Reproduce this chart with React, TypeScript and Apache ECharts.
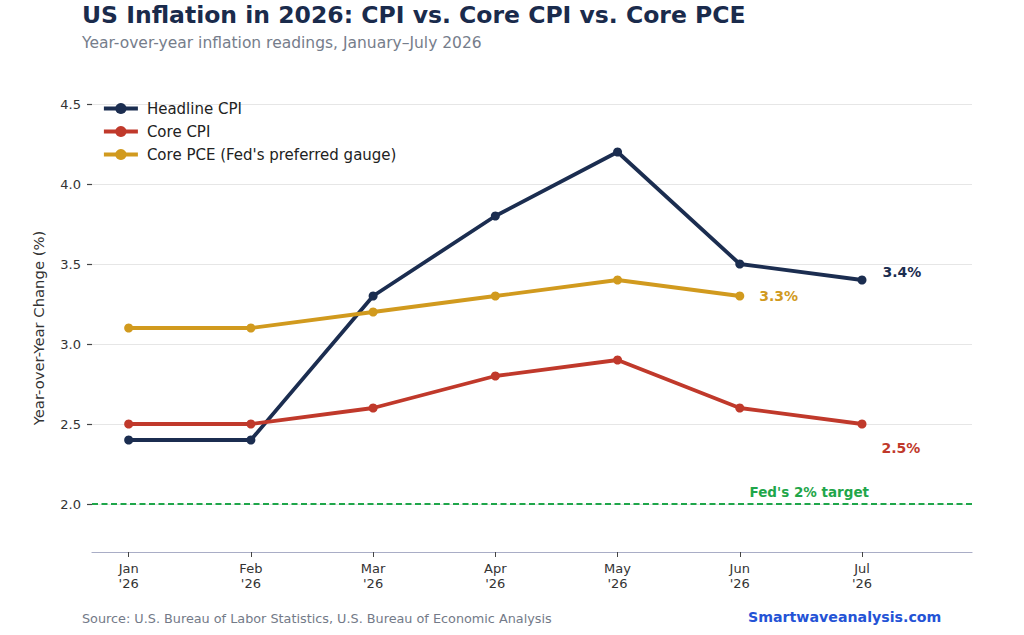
import React, { useEffect, useRef } from "react";
import * as echarts from "echarts";

const months = ["Jan", "Feb", "Mar", "Apr", "May", "Jun", "Jul"];
const yearTag = "'26";
const headlineCPI = [2.4, 2.4, 3.3, 3.8, 4.2, 3.5, 3.4];
const coreCPI = [2.5, 2.5, 2.6, 2.8, 2.9, 2.6, 2.5];
const corePCE = [3.1, 3.1, 3.2, 3.3, 3.4, 3.3];
const yTicks = [2.0, 2.5, 3.0, 3.5, 4.0, 4.5];
const fedTarget = 2.0;

const FONT = "DejaVu Sans";
const NAVY = "#1b2d50";
const RED = "#c0392b";
const GOLD = "#d19a1e";
const GREEN = "#1fa64a";

function toPoints(vals: number[], endLabel: any, color: string) {
  return vals.map((v, i) => {
    const item: any = { value: [i, v] };
    if (i === vals.length - 1) {
      item.label = {
        show: true,
        position: "right",
        distance: endLabel.distance,
        offset: endLabel.offset,
        color,
        fontFamily: FONT,
        fontWeight: "bold",
        fontSize: 14,
        formatter: (p: any) => p.value[1].toFixed(1) + "%",
      };
    }
    return item;
  });
}

export default function App() {
  const ref = useRef<HTMLDivElement>(null);
  useEffect(() => {
    if (!ref.current) return;
    const chart = echarts.init(ref.current, null, { renderer: "svg" });
    const lineSeries = (name: string, color: string, data: any[]) => ({
      name,
      type: "line",
      data,
      symbol: "circle",
      symbolSize: 9,
      lineStyle: { color, width: 3.8 },
      itemStyle: { color },
      z: 3,
    });
    chart.setOption({
      animation: false,
      backgroundColor: "#ffffff",
      textStyle: { fontFamily: FONT },
      title: [
        {
          text: "US Inflation in 2026: CPI vs. Core CPI vs. Core PCE",
          left: 77,
          top: -2,
          textStyle: { fontFamily: FONT, fontSize: 23.5, fontWeight: "bold", color: "#1a2b4c" },
        },
        {
          text: "Year-over-year inflation readings, January\u2013July 2026",
          left: 77,
          top: 30,
          textStyle: { fontFamily: FONT, fontSize: 15.5, fontWeight: "normal", color: "#767d8b" },
        },
      ],
      legend: {
        orient: "vertical",
        left: 97,
        top: 96,
        itemWidth: 34,
        itemHeight: 14,
        itemGap: 8,
        lineStyle: { width: 3.8 },
        textStyle: { fontFamily: FONT, fontSize: 15, color: "#222222", padding: [0, 0, 0, 4] },
        data: ["Headline CPI", "Core CPI", "Core PCE (Fed's preferred gauge)"],
      },
      grid: { left: 92, right: 52, top: 104, bottom: 83 },
      xAxis: {
        type: "value",
        min: -0.3,
        max: 6.9,
        axisLine: { show: true, onZero: false, lineStyle: { color: "#a9adc6", width: 1.2 } },
        axisTick: { show: true, customValues: [0, 1, 2, 3, 4, 5, 6], length: 5, lineStyle: { color: "#444" } },
        axisLabel: {
          customValues: [0, 1, 2, 3, 4, 5, 6],
          formatter: (v: number) => `${months[Math.round(v)]}\n${yearTag}`,
          fontFamily: FONT,
          fontSize: 13,
          lineHeight: 15,
          color: "#333333",
          margin: 9,
        },
        splitLine: { show: false },
      },
      yAxis: {
        type: "value",
        min: 1.7,
        max: 4.5,
        name: "Year-over-Year Change (%)",
        nameLocation: "middle",
        nameGap: 46,
        nameTextStyle: { fontFamily: FONT, fontSize: 14.8, color: "#333333" },
        axisLine: { show: true, onZero: false, lineStyle: { color: "rgba(0,0,0,0)" } },
        axisTick: { show: true, customValues: yTicks, length: 5, lineStyle: { color: "#444", width: 1.2 } },
        axisLabel: {
          customValues: yTicks,
          formatter: (v: number) => v.toFixed(1),
          fontFamily: FONT,
          fontSize: 13,
          color: "#333333",
          margin: 11,
        },
        splitLine: { show: true, lineStyle: { color: "#e6e6e6", width: 1 } },
      },
      series: [
        {
          ...lineSeries("Headline CPI", NAVY, toPoints(headlineCPI, { distance: 16, offset: [0, -8] }, NAVY)),
          markLine: {
            silent: true,
            symbol: "none",
            data: [{ yAxis: fedTarget }],
            lineStyle: { color: GREEN, width: 2, type: [6, 3.5] },
            label: {
              show: true,
              position: "insideEndTop",
              distance: [103, 5],
              formatter: "Fed's 2% target",
              color: GREEN,
              fontFamily: FONT,
              fontWeight: "bold",
              fontSize: 13.5,
            },
          },
        },
        lineSeries("Core CPI", RED, toPoints(coreCPI, { distance: 15, offset: [0, 24] }, RED)),
        lineSeries("Core PCE (Fed's preferred gauge)", GOLD, toPoints(corePCE, { distance: 15, offset: [0, 0] }, GOLD)),
      ],
      graphic: [
        {
          type: "text",
          left: 82,
          top: 612,
          style: {
            text: "Source: U.S. Bureau of Labor Statistics, U.S. Bureau of Economic Analysis",
            fontFamily: FONT,
            fontSize: 12.8,
            fill: "#737a88",
          },
        },
        {
          type: "text",
          left: 748,
          top: 610,
          style: {
            text: "Smartwaveanalysis.com",
            fontFamily: FONT,
            fontSize: 14.2,
            fontWeight: "bold",
            fill: "#2453d6",
          },
        },
      ],
    });
    return () => chart.dispose();
  }, []);
  return (
    <div
      ref={ref}
      style={{ position: "fixed", left: 0, top: 0, width: 1024, height: 635, background: "#fff" }}
    />
  );
}
